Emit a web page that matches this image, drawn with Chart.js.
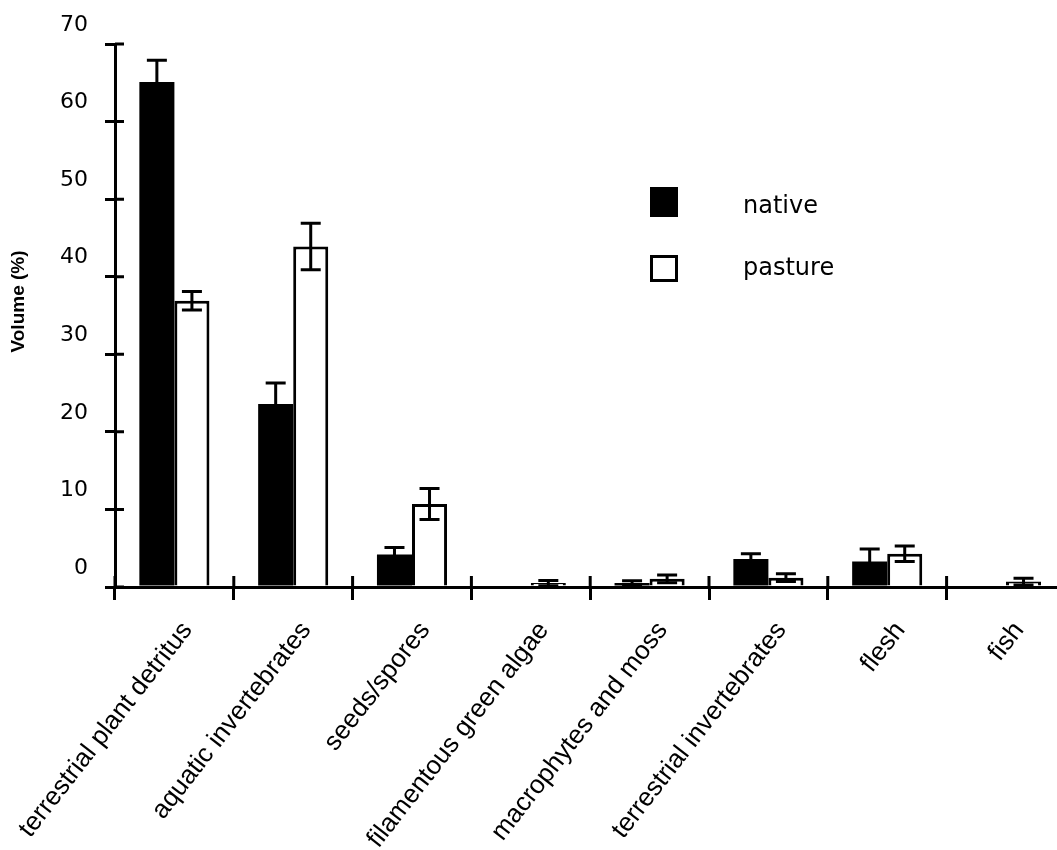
<!DOCTYPE html>
<html><head><meta charset="utf-8">
<script src="https://cdn.jsdelivr.net/npm/chart.js@4/dist/chart.umd.min.js"></script>
<style>html,body{margin:0;padding:0;background:#fff;overflow:hidden;width:1057px;height:850px}canvas{display:block}</style>
</head><body>
<canvas id="c" width="1080" height="850" style="width:1080px;height:850px"></canvas>
<script>
const categories = ['terrestrial plant detritus','aquatic invertebrates','seeds/spores','filamentous green algae','macrophytes and moss','terrestrial invertebrates','flesh','fish'];
const seriesLabels = ['native','pasture'];
const nativeValues = [65.1, 23.6, 4.2, 0, 0.5, 3.6, 3.3, 0];
const nativeErrors = [2.8, 2.7, 0.9, 0, 0.3, 0.7, 1.6, 0];
const pastureValues = [36.9, 43.9, 10.7, 0.5, 1.05, 1.2, 4.3, 0.7];
const pastureErrors = [1.2, 3.0, 2.0, 0.35, 0.5, 0.5, 1.0, 0.43];
const yTicks = [0, 10, 20, 30, 40, 50, 60, 70];
const yTitle = 'Volume (%)';

const LW = 3;

const crossTicks = {
  id: 'crossTicks',
  afterDraw(chart) {
    const {ctx, chartArea: a, scales: {x, y}} = chart;
    ctx.save();
    ctx.strokeStyle = '#000';
    ctx.lineWidth = LW;
    ctx.beginPath();
    for (const t of y.ticks) {
      const py = y.getPixelForValue(t.value);
      ctx.moveTo(a.left, py); ctx.lineTo(a.left + 9, py);
    }
    for (let i = 0; i <= x.ticks.length; i++) {
      const px = x.getPixelForValue(i - 0.5);
      ctx.moveTo(px, a.bottom); ctx.lineTo(px, a.bottom - 11);
    }
    ctx.stroke();
    // y axis title, centred slightly above the plot middle as in the reference
    ctx.fillStyle = '#000';
    ctx.font = 'bold 19px "Liberation Sans"';
    ctx.textAlign = 'center';
    ctx.textBaseline = 'middle';
    ctx.translate(19, (a.top + a.bottom) / 2 - 14);
    ctx.rotate(-Math.PI / 2);
    ctx.fillText(yTitle, 0, 0);
    ctx.restore();
  }
};

const errorBars = {
  id: 'errorBars',
  afterDatasetsDraw(chart) {
    const {ctx, scales: {y}} = chart;
    ctx.save();
    ctx.strokeStyle = '#000';
    ctx.lineWidth = LW;
    chart.data.datasets.forEach((ds, di) => {
      const meta = chart.getDatasetMeta(di);
      meta.data.forEach((bar, i) => {
        const v = ds.data[i], e = ds.errors[i];
        if (!e) return;
        const top = y.getPixelForValue(v + e);
        const bot = y.getPixelForValue(Math.max(0, v - e));
        const half = 10;
        ctx.beginPath();
        ctx.moveTo(bar.x, top); ctx.lineTo(bar.x, bot);
        ctx.moveTo(bar.x - half, top); ctx.lineTo(bar.x + half, top);
        ctx.moveTo(bar.x - half, bot); ctx.lineTo(bar.x + half, bot);
        ctx.stroke();
      });
    });
    ctx.restore();
  }
};

const legendBox = {
  id: 'legendBox',
  afterDraw(chart) {
    const {ctx} = chart;
    ctx.save();
    const rows = [{sq: [650, 187, 28, 30], base: 213}, {sq: [651.5, 256.5, 25, 24], base: 275}];
    chart.data.datasets.forEach((ds, i) => {
      const r = rows[i];
      ctx.fillStyle = ds.backgroundColor;
      ctx.fillRect(...r.sq);
      if (ds.borderWidth) {
        ctx.strokeStyle = ds.borderColor; ctx.lineWidth = LW;
        ctx.strokeRect(...r.sq);
      }
      ctx.fillStyle = '#000';
      ctx.font = '24px "DejaVu Sans"';
      ctx.textBaseline = 'alphabetic';
      ctx.fillText(ds.label, 743, r.base);
    });
    ctx.restore();
  }
};

new Chart(document.getElementById('c'), {
  type: 'bar',
  data: {
    labels: categories,
    datasets: [
      {label: seriesLabels[0], data: nativeValues, errors: nativeErrors, backgroundColor: '#000', borderColor: '#000', borderWidth: 0},
      {label: seriesLabels[1], data: pastureValues, errors: pastureErrors, backgroundColor: '#fff', borderColor: '#000', borderWidth: LW}
    ]
  },
  options: {
    responsive: false, animation: false, devicePixelRatio: 1,
    layout: {padding: {top: 44, right: 14.6, left: 0, bottom: 0}},
    plugins: {legend: {display: false}, tooltip: {enabled: false}},
    datasets: {bar: {categoryPercentage: 0.59, barPercentage: 1.0}},
    scales: {
      x: {
        offset: true,
        grid: {offset: true, drawOnChartArea: false, drawTicks: true, tickLength: 13, color: '#000', lineWidth: LW},
        border: {display: true, color: '#000', width: LW},
        ticks: {color: '#000', font: {family: 'Liberation Sans', size: 26}, minRotation: 52, maxRotation: 52, autoSkip: false, padding: 16, labelOffset: 13},
        afterFit(s) { s.height = 263; s.paddingLeft = 0; s.paddingRight = 0; }
      },
      y: {
        min: 0, max: 70,
        afterBuildTicks(s) { s.ticks = yTicks.map(v => ({value: v})); },
        grid: {drawOnChartArea: false, tickLength: 10, color: '#000', lineWidth: LW},
        border: {display: true, color: '#000', width: LW},
        ticks: {color: '#000', font: {family: 'DejaVu Sans', size: 22}, padding: 17, labelOffset: -19},
        title: {display: false, text: yTitle},
        afterFit(s) { s.width = 115; s.paddingTop = 0; s.paddingBottom = 0; }
      }
    }
  },
  plugins: [crossTicks, errorBars, legendBox]
});
</script>
</body></html>
